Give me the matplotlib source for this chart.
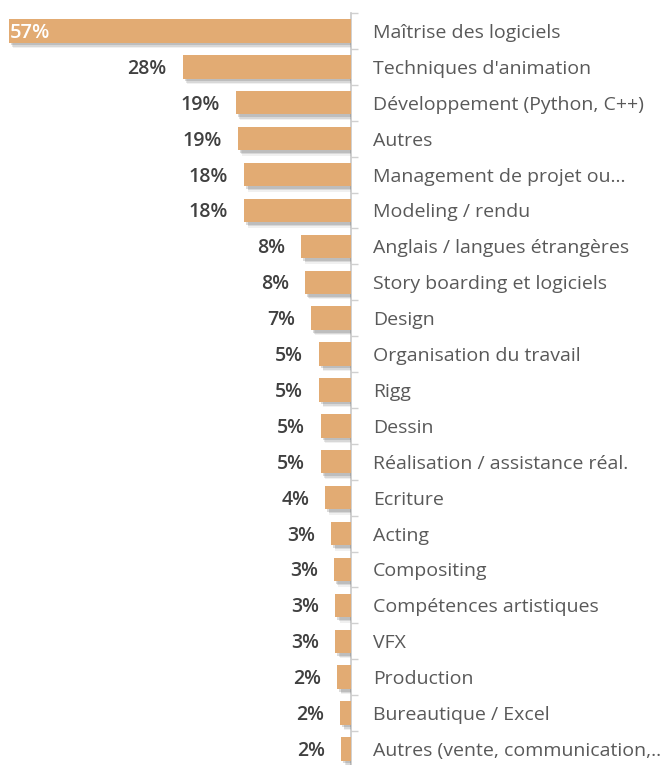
import numpy as np
import matplotlib.pyplot as plt
import matplotlib.patheffects as pe

# Competences (labels shown on the right of the axis)
categories = [
    "Maîtrise des logiciels",
    "Techniques d'animation",
    "Développement (Python, C++)",
    "Autres",
    "Management de projet ou…",
    "Modeling / rendu",
    "Anglais / langues étrangères",
    "Story boarding et logiciels",
    "Design",
    "Organisation du travail",
    "Rigg",
    "Dessin",
    "Réalisation / assistance réal.",
    "Ecriture",
    "Acting",
    "Compositing",
    "Compétences artistiques",
    "VFX",
    "Production",
    "Bureautique / Excel",
    "Autres (vente, communication,…",
]
# share of answers in %
values = [57.0, 28.05, 19.2, 18.9, 17.8, 17.8, 8.3, 7.7, 6.7, 5.3, 5.3, 5.0, 5.0,
          4.3, 3.3, 2.9, 2.6, 2.6, 2.3, 1.8, 1.6]

bar_color = "#E2AB73"
W, H = 660, 765
fig = plt.figure(figsize=(W / 100, H / 100), dpi=100)
# axes: right spine at x=351px, rows of 35.9px starting at y=13px
row = 35.9
top = 13
ax = fig.add_axes([0, 1 - (top + row * len(values)) / H, 351 / W, row * len(values) / H])

y = np.arange(len(values))
shadow = [pe.SimplePatchShadow(offset=(3.0, -4.0), shadow_rgbFace="#707070", alpha=0.10),
          pe.SimplePatchShadow(offset=(2.5, -3.0), shadow_rgbFace="#707070", alpha=0.18),
          pe.SimplePatchShadow(offset=(1.5, -2.0), shadow_rgbFace="#707070", alpha=0.25),
          pe.Normal()]
bars = ax.barh(y, values, height=0.65, color=bar_color, zorder=3)
for b in bars:
    b.set_path_effects(shadow)

ax.set_xlim(351 / 6, 0)
ax.set_ylim(len(values) - 0.5, -0.5)

font = "Open Sans"
for i, v in enumerate(values):
    if i == 0:
        ax.annotate(f"{v:.0f}%", (v, i), xytext=(1, -2), textcoords="offset pixels",
                    ha="left", va="center", color="white", fontsize=14.5,
                    fontweight="semibold", family=font, zorder=4)
    else:
        ax.annotate(f"{v:.0f}%", (v, i), xytext=(-16, -2), textcoords="offset pixels",
                    ha="right", va="center", color="#404040", fontsize=14,
                    fontweight="semibold", family=font, zorder=4)

ax.yaxis.tick_right()
ax.set_yticks(y, categories)
ax.set_yticks(np.arange(-0.5, len(values)), minor=True)
ax.tick_params(axis="y", which="major", length=0, pad=16, labelsize=14, labelcolor="#595959")
ax.tick_params(axis="y", which="minor", length=5, width=1, color="#D0D0D0")
for lab in ax.get_yticklabels():
    lab.set_family(font)
ax.set_xticks([])
for s in ["left", "top", "bottom"]:
    ax.spines[s].set_visible(False)
ax.spines["right"].set_color("#C8C8C8")
ax.spines["right"].set_linewidth(1.2)
ax.set_facecolor("none")

fig.savefig("out.png", dpi=100)
